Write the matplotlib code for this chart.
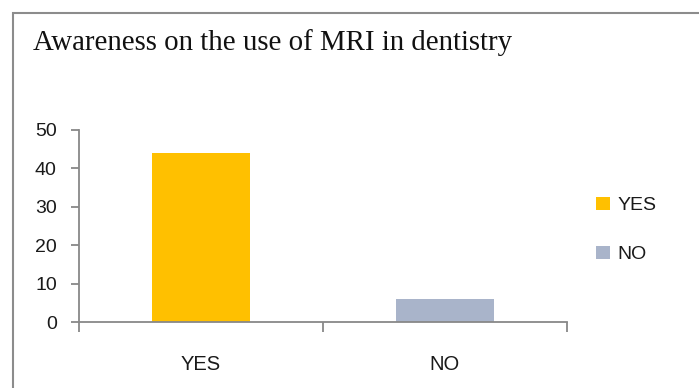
import matplotlib
matplotlib.use("Agg")
import matplotlib.pyplot as plt
from matplotlib.patches import Patch, Rectangle

categories = ["YES", "NO"]
values = [44, 6]
colors = ["#FFC000", "#A9B4CA"]
title = "Awareness on the use of MRI in dentistry"
yticks = [0, 10, 20, 30, 40, 50]

fig = plt.figure(figsize=(6.99, 3.88), dpi=100)
ax = fig.add_axes([0.113, 0.170, 0.698, 0.495])

# outer chart border (only top and left visible, picture is cropped)
fig.patches.append(Rectangle((13 / 699, -0.1), 1.2, 1 - 12.5 / 388 + 0.1,
                             transform=fig.transFigure, fill=False,
                             edgecolor="#8c8c8c", linewidth=1.5))

x = list(range(len(categories)))
ax.bar(x, values, width=0.4, color=colors)

ax.set_xlim(-0.5, 1.5)
ax.set_ylim(0, 50)
ax.set_yticks(yticks)
ax.set_xticks(x)
ax.set_xticklabels(categories)
ax.set_xticks([-0.5, 0.5, 1.5], minor=True)

axis_col = "#888888"
for side in ["top", "right"]:
    ax.spines[side].set_visible(False)
for side in ["left", "bottom"]:
    ax.spines[side].set_color(axis_col)
    ax.spines[side].set_linewidth(1.3)

ax.tick_params(axis="y", direction="out", length=6, width=1.3, color=axis_col,
               labelsize=14, pad=10)
ax.tick_params(axis="x", which="major", length=0, labelsize=14.5, pad=24)
ax.tick_params(axis="x", which="minor", direction="out", length=7, width=1.3,
               color=axis_col)
for lab in ax.get_xticklabels() + ax.get_yticklabels():
    lab.set_fontfamily("Liberation Sans")
    lab.set_color("#1a1a1a")

fig.text(33 / 699, 1 - 49.5 / 388, title, fontsize=20.8, family="Liberation Serif",
         color="#111111", ha="left", va="baseline")

handles = [Patch(facecolor=c, edgecolor="none") for c in colors]
leg = fig.legend(handles, categories, loc="center left",
                 bbox_to_anchor=(0.828, 1 - 230 / 388), frameon=False,
                 handlelength=0.7, handleheight=0.7, handletextpad=0.4,
                 labelspacing=1.6, prop={"family": "Liberation Sans", "size": 14})
for t in leg.get_texts():
    t.set_color("#1a1a1a")

fig.savefig("out.png", dpi=100)
